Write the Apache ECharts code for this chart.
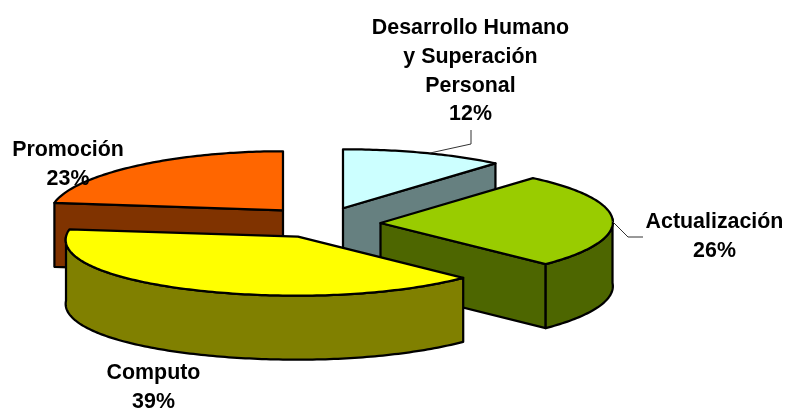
<!DOCTYPE html>
<html><head><meta charset="utf-8">
<style>html,body{margin:0;padding:0;background:#fff}#c{width:785px;height:408px}</style>
<script src="https://cdn.jsdelivr.net/npm/echarts@6/dist/echarts.min.js"></script>
</head><body><div id="c"></div>
<script>
const categories = ['Desarrollo Humano\ny Superación\nPersonal', 'Actualización', 'Computo', 'Promoción'];
const values = [12, 26, 39, 23];
const topColors = ['#CCFFFF', '#99CC00', '#FFFF00', '#FF6600'];
const sideColors = ['#668080', '#4D6600', '#808000', '#803300'];
const explodeFactors = [0.96, 1, 0.93, 1.03];

// Label layout: centre x, top y of the text block; leader polyline if any.
const labelLayout = [
  { x: 470.5, y: 14, leader: [[430, 153], [471, 144], [471, 130]] },
  { x: 714.5, y: 208, leader: [[612, 221], [628, 237], [643, 237]] },
  { x: 153.5, y: 359 },
  { x: 68, y: 136 }
];
const G = { cx: 322.5, cy: 223, rx: 232, ry: 59, lift: 4, persp: 0.055, depth: 64, exX: 58, exY: 16.5, lh: 28.7 };
const total = values.reduce((a, b) => a + b, 0);
const starts = []; values.reduce((acc, v, i) => (starts[i] = acc, acc + v), 0);
const rad = d => d * Math.PI / 180;

function pt(c, t, dz) {
  const s = Math.sin(t), k = Math.cos(t), r = Math.max(0, s);
  return [c[0] + G.rx * s * (1 - G.persp * k), c[1] - G.ry * k - G.lift * r * r + (dz || 0)];
}
function arc(c, a, b, dz) {
  const n = Math.max(2, Math.ceil(Math.abs(b - a) / rad(1))), out = [];
  for (let i = 0; i <= n; i++) out.push(pt(c, a + (b - a) * i / n, dz));
  return out;
}
function renderItem(params, api) {
  const i = params.dataIndex, v = api.value(0);
  const a = starts[i] / total * 2 * Math.PI, b = (starts[i] + v) / total * 2 * Math.PI, m = (a + b) / 2;
  const f = explodeFactors[i];
  const c = [G.cx + f * G.exX * Math.sin(m), G.cy - f * G.exY * Math.cos(m)];
  const line = { lineWidth: 2.25, stroke: '#000', lineJoin: 'round' };
  const z = Math.round(c[1]);
  const ch = [];
  const poly = (pts, fill) => ch.push({ type: 'polygon', z2: z, shape: { points: pts },
    style: Object.assign({ fill }, line) });
  const wall = t => poly([c, pt(c, t), pt(c, t, G.depth), [c[0], c[1] + G.depth]], sideColors[i]);
  if (Math.sin(b) > 1e-6) wall(b);
  if (Math.sin(a) < -1e-6) wall(a);
  const w0 = Math.max(a, Math.PI / 2), w1 = Math.min(b, 3 * Math.PI / 2);
  if (w1 > w0) poly(arc(c, w0, w1).concat(arc(c, w1, w0, G.depth)), sideColors[i]);
  poly([c].concat(arc(c, a, b)), topColors[i]);
  const L = labelLayout[i];
  if (L.leader) ch.push({ type: 'polyline', z2: 500, shape: { points: L.leader },
    style: { fill: 'none', stroke: '#333', lineWidth: 1 } });
  ch.push({ type: 'text', z2: 1000, style: {
    text: categories[i] + '\n' + v + '%', x: L.x, y: L.y, align: 'center', verticalAlign: 'top',
    font: 'bold 21.4px "Liberation Sans", Arial, sans-serif', lineHeight: G.lh, fill: '#000' } });
  return { type: 'group', children: ch };
}
const chart = echarts.init(document.getElementById('c'), null, { renderer: 'canvas' });
chart.setOption({
  animation: false,
  backgroundColor: '#fff',
  series: [{ type: 'custom', coordinateSystem: 'none', renderItem, data: values.map(v => [v]), clip: false }]
});
</script></body></html>
